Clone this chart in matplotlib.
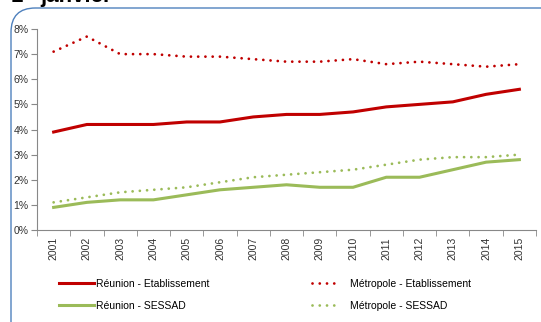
import matplotlib
matplotlib.use("Agg")
import matplotlib.pyplot as plt
from matplotlib.patches import FancyBboxPatch
import numpy as np

plt.rcParams['font.family'] = ['Liberation Sans', 'DejaVu Sans']

years = [str(y) for y in range(2001, 2016)]
reunion_etab = [3.9, 4.2, 4.2, 4.2, 4.3, 4.3, 4.5, 4.6, 4.6, 4.7, 4.9, 5.0, 5.1, 5.4, 5.6]
metro_etab = [7.1, 7.7, 7.0, 7.0, 6.9, 6.9, 6.8, 6.7, 6.7, 6.8, 6.6, 6.7, 6.6, 6.5, 6.6]
reunion_sessad = [0.9, 1.1, 1.2, 1.2, 1.4, 1.6, 1.7, 1.8, 1.7, 1.7, 2.1, 2.1, 2.4, 2.7, 2.8]
metro_sessad = [1.1, 1.3, 1.5, 1.6, 1.7, 1.9, 2.1, 2.2, 2.3, 2.4, 2.6, 2.8, 2.9, 2.9, 3.0]
yticks = [0, 1, 2, 3, 4, 5, 6, 7, 8]

red = '#C00000'
green = '#9BBB59'
dot = (0, (0.01, 2.6))

W, H = 541, 322
fig = plt.figure(figsize=(W/100, H/100), dpi=100)

# frame
box = FancyBboxPatch((11/W, -0.2), 1.2, (322-8)/H + 0.2, boxstyle="round,pad=0,rounding_size=0.045",
                     transform=fig.transFigure, fill=False, edgecolor='#4F81BD', linewidth=1.0,
                     mutation_aspect=W/H)
fig.add_artist(box)

# clipped title (only the bottom of the glyphs is visible in the reference)
fig.text(11/W, 1 - 2/H, "1", fontsize=16, fontweight='bold', va='baseline', ha='left')
fig.text(22/W, 1 + 6/H, "er", fontsize=10, fontweight='bold', va='baseline', ha='left')
fig.text(40/W, 1 - 2/H, "janvier", fontsize=16, fontweight='bold', va='baseline', ha='left')

ax = fig.add_axes([37/W, 1-230/H, (536-37)/W, (230-29)/H])
x = np.arange(len(years))
l1, = ax.plot(x, reunion_etab, color=red, lw=2.2)
l2, = ax.plot(x, metro_etab, color=red, lw=2.0, linestyle=dot, dash_capstyle='round')
l3, = ax.plot(x, reunion_sessad, color=green, lw=2.2)
l4, = ax.plot(x, metro_sessad, color=green, lw=2.0, linestyle=dot, dash_capstyle='round')

ax.set_xlim(-0.5, len(years) - 0.5)
ax.set_ylim(0, 8)
ax.set_yticks(yticks)
ax.set_yticklabels([f"{v}%" for v in yticks], fontsize=7.5, color='#333333')
ax.set_xticks(x)
ax.set_xticklabels(years, rotation=90, fontsize=7.5, color='#333333')
ax.set_xticks(np.arange(-0.5, len(years)), minor=True)
ax.tick_params(axis='x', which='major', length=0, pad=5)
ax.tick_params(axis='x', which='minor', length=4, color='#888888')
ax.tick_params(axis='y', length=4, color='#888888', pad=2)
for s in ['top', 'right']:
    ax.spines[s].set_visible(False)
for s in ['left', 'bottom']:
    ax.spines[s].set_color('#888888')
    ax.spines[s].set_linewidth(0.8)

leg1 = fig.legend([l1, l3], ['Réunion - Etablissement', 'Réunion - SESSAD'], loc='upper left',
                  bbox_to_anchor=(59/W, 1-279/H), frameon=False, fontsize=7.5,
                  handlelength=3.4, handletextpad=0.15, labelspacing=1.15, borderpad=0, borderaxespad=0)
leg2 = fig.legend([l2, l4], ['Métropole - Etablissement', 'Métropole - SESSAD'], loc='upper left',
                  bbox_to_anchor=(312/W, 1-279/H), frameon=False, fontsize=7.5,
                  handlelength=2.7, handletextpad=0.9, labelspacing=1.15, borderpad=0, borderaxespad=0)

fig.savefig('out.png', dpi=100)
